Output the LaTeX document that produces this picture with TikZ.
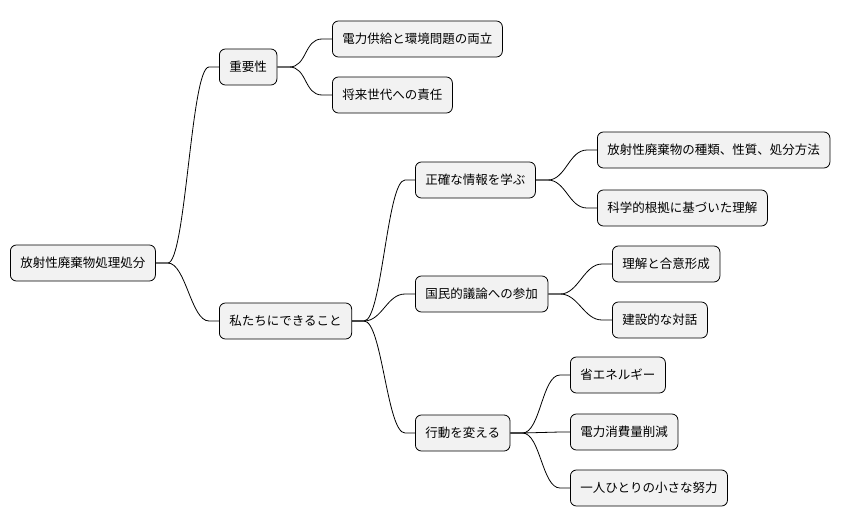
\documentclass[tikz,border=0pt]{standalone}
\usepackage{fontspec}
\newfontfamily\cjk{Noto Sans CJK JP}
\begin{document}
\begin{tikzpicture}[x=1pt,y=-1pt,
  n/.style={draw=black,fill=black!5,rounded corners=6pt,minimum height=36pt,inner xsep=10pt,anchor=west,font=\cjk\fontsize{12.5}{15}\selectfont,line width=0.8pt},
  e/.style={draw=black,line width=0.8pt}]
\useasboundingbox (0,0) rectangle (866,527);
\node[n] (r) at (10,263) {放射性廃棄物処理処分};
\node[n] (a) at (219,67) {重要性};
\node[n] (a1) at (332,39) {電力供給と環境問題の両立};
\node[n] (a2) at (332,95) {将来世代への責任};
\node[n] (b) at (219,321) {私たちにできること};
\node[n] (b1) at (415,180) {正確な情報を学ぶ};
\node[n] (b11) at (597,150) {放射性廃棄物の種類、性質、処分方法};
\node[n] (b12) at (597,208) {科学的根拠に基づいた理解};
\node[n] (b2) at (415,294) {国民的議論への参加};
\node[n] (b21) at (612,264) {理解と合意形成};
\node[n] (b22) at (612,320) {建設的な対話};
\node[n] (b3) at (415,433) {行動を変える};
\node[n] (b31) at (570,375) {省エネルギー};
\node[n] (b32) at (570,432) {電力消費量削減};
\node[n] (b33) at (570,488) {一人ひとりの小さな努力};
\foreach \p/\c in {r/a,r/b,a/a1,a/a2,b/b1,b/b2,b/b3,b1/b11,b1/b12,b2/b21,b2/b22,b3/b31,b3/b32,b3/b33}
  \draw[e] (\p.east) -- ++(12,0) .. controls +(18,0) and +(-18,0) .. ([xshift=-10pt]\c.west) -- (\c.west);
\end{tikzpicture}
\end{document}
